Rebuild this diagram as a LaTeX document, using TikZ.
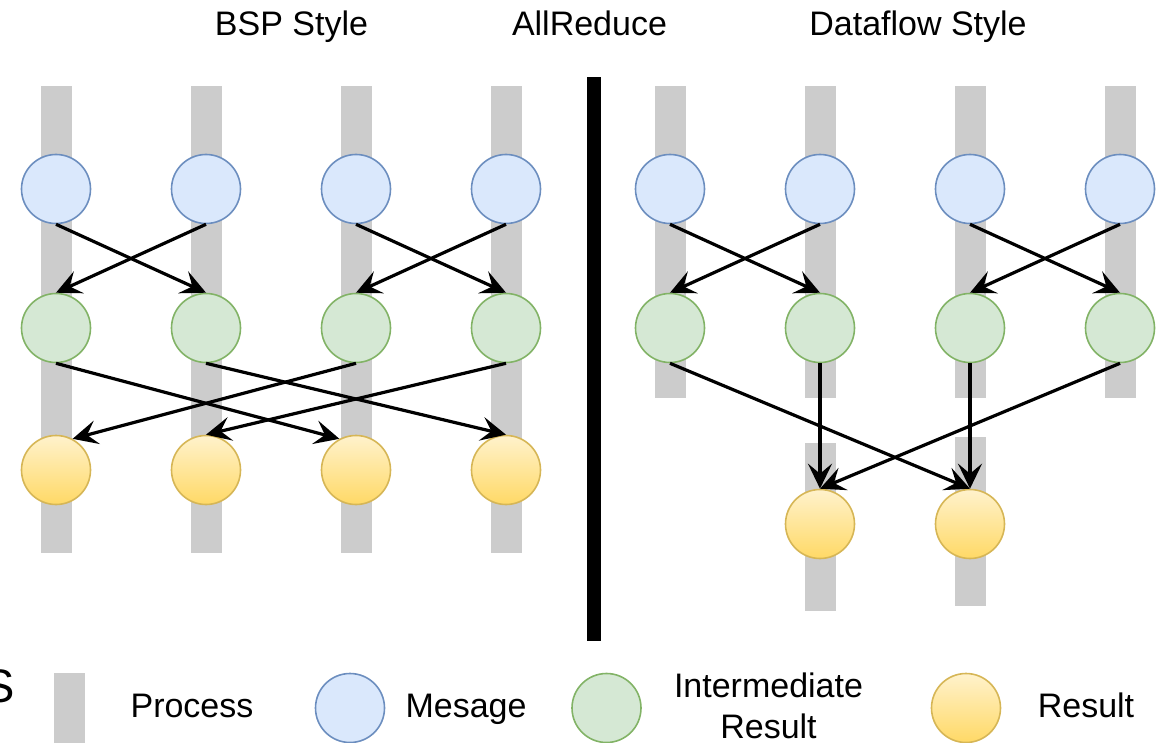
\documentclass[tikz,border=0pt]{standalone}
\usepackage{fontspec}
\setmainfont{Liberation Sans}
\usetikzlibrary{arrows.meta}

\definecolor{procgray}{HTML}{CCCCCC}
\definecolor{msgfill}{HTML}{DAE8FC}
\definecolor{msgline}{HTML}{6C8EBF}
\definecolor{midfill}{HTML}{D5E8D4}
\definecolor{midline}{HTML}{82B366}
\definecolor{restop}{HTML}{FFF2CC}
\definecolor{resbot}{HTML}{FFD966}
\definecolor{resline}{HTML}{D6B656}

\tikzset{
  x=0.5pt, y=-0.5pt,
  every node/.style={font=\fontsize{17pt}{20.5pt}\selectfont},
  proc/.style={fill=procgray, draw=none},
  dot/.style={circle, minimum size=34.5pt, inner sep=0pt, line width=0.8pt},
  msg/.style={dot, fill=msgfill, draw=msgline},
  mid/.style={dot, fill=midfill, draw=midline},
  res/.style={dot, draw=resline, top color=restop, bottom color=resbot},
  flow/.style={line width=1.6pt,
    -{Stealth[length=12.5pt, width=12pt, inset=5pt]}},
  lbl/.style={anchor=base, inner sep=0pt},
}

\begin{document}
\begin{tikzpicture}
\useasboundingbox (0,0) rectangle (1157,743);
\clip (0,0) rectangle (1157,743);

% headings
\node[lbl] (tbsp) at (291.5,36) {BSP Style};
\node[lbl] (tall) at (589.5,36) {AllReduce};
\node[lbl] (tdf)  at (918,36)   {Dataflow Style};

% separator between the two styles
\fill (587,77) rectangle (601,641);

% ---------- BSP style ----------
\foreach \x in {56,206,356,506}
  \fill[proc] (\x-15.5,86) rectangle (\x+15.5,553);

\foreach \i/\x in {1/56,2/206,3/356,4/506} {
  \node[msg] (b\i) at (\x,189) {};
  \node[mid] (g\i) at (\x,328) {};
  \node[res] (y\i) at (\x,470) {};
}

\draw[flow] (b1.south) -- (g2.north);
\draw[flow] (b2.south) -- (g1.north);
\draw[flow] (b3.south) -- (g4.north);
\draw[flow] (b4.south) -- (g3.north);

\draw[flow] (g1.south) -- (y3.118);
\draw[flow] (g2.south) -- (y4.north);
\draw[flow] (g3.south) -- (y1.62);
\draw[flow] (g4.south) -- (y2.north);

% ---------- Dataflow style ----------
\foreach \x in {670,820,970,1120}
  \fill[proc] (\x-15.5,86) rectangle (\x+15.5,398);
\fill[proc] (820-15.5,443) rectangle (820+15.5,611);
\fill[proc] (970-15.5,437) rectangle (970+15.5,606);

\foreach \i/\x in {1/670,2/820,3/970,4/1120} {
  \node[msg] (rb\i) at (\x,189) {};
  \node[mid] (rg\i) at (\x,328) {};
}
\node[res] (ry1) at (820,524) {};
\node[res] (ry2) at (970,524) {};

\draw[flow] (rb1.south) -- (rg2.north);
\draw[flow] (rb2.south) -- (rg1.north);
\draw[flow] (rb3.south) -- (rg4.north);
\draw[flow] (rb4.south) -- (rg3.north);

\draw[flow] (rg1.south) -- (ry2.north);
\draw[flow] (rg2.south) -- (ry1.north);
\draw[flow] (rg3.south) -- (ry2.north);
\draw[flow] (rg4.south) -- (ry1.north);

% ---------- legend ----------
\node[lbl, anchor=base east, font=\fontsize{23.5pt}{28pt}\selectfont] (ltitle) at (15,702) {S};

\fill[proc] (54,673) rectangle (85,760);
\node[lbl] (lproc) at (192,717) {Process};

\node[msg] (lmsg) at (350,708) {};
\node[lbl] (lmsgt) at (466,717) {Mesage};

\node[mid] (lmid) at (606.5,708) {};
\node[lbl, align=center] (lmidt) at (768.5,738) {Intermediate\\Result};

\node[res] (lres) at (966,708) {};
\node[lbl] (lrest) at (1086,717) {Result};
\end{tikzpicture}
\end{document}
